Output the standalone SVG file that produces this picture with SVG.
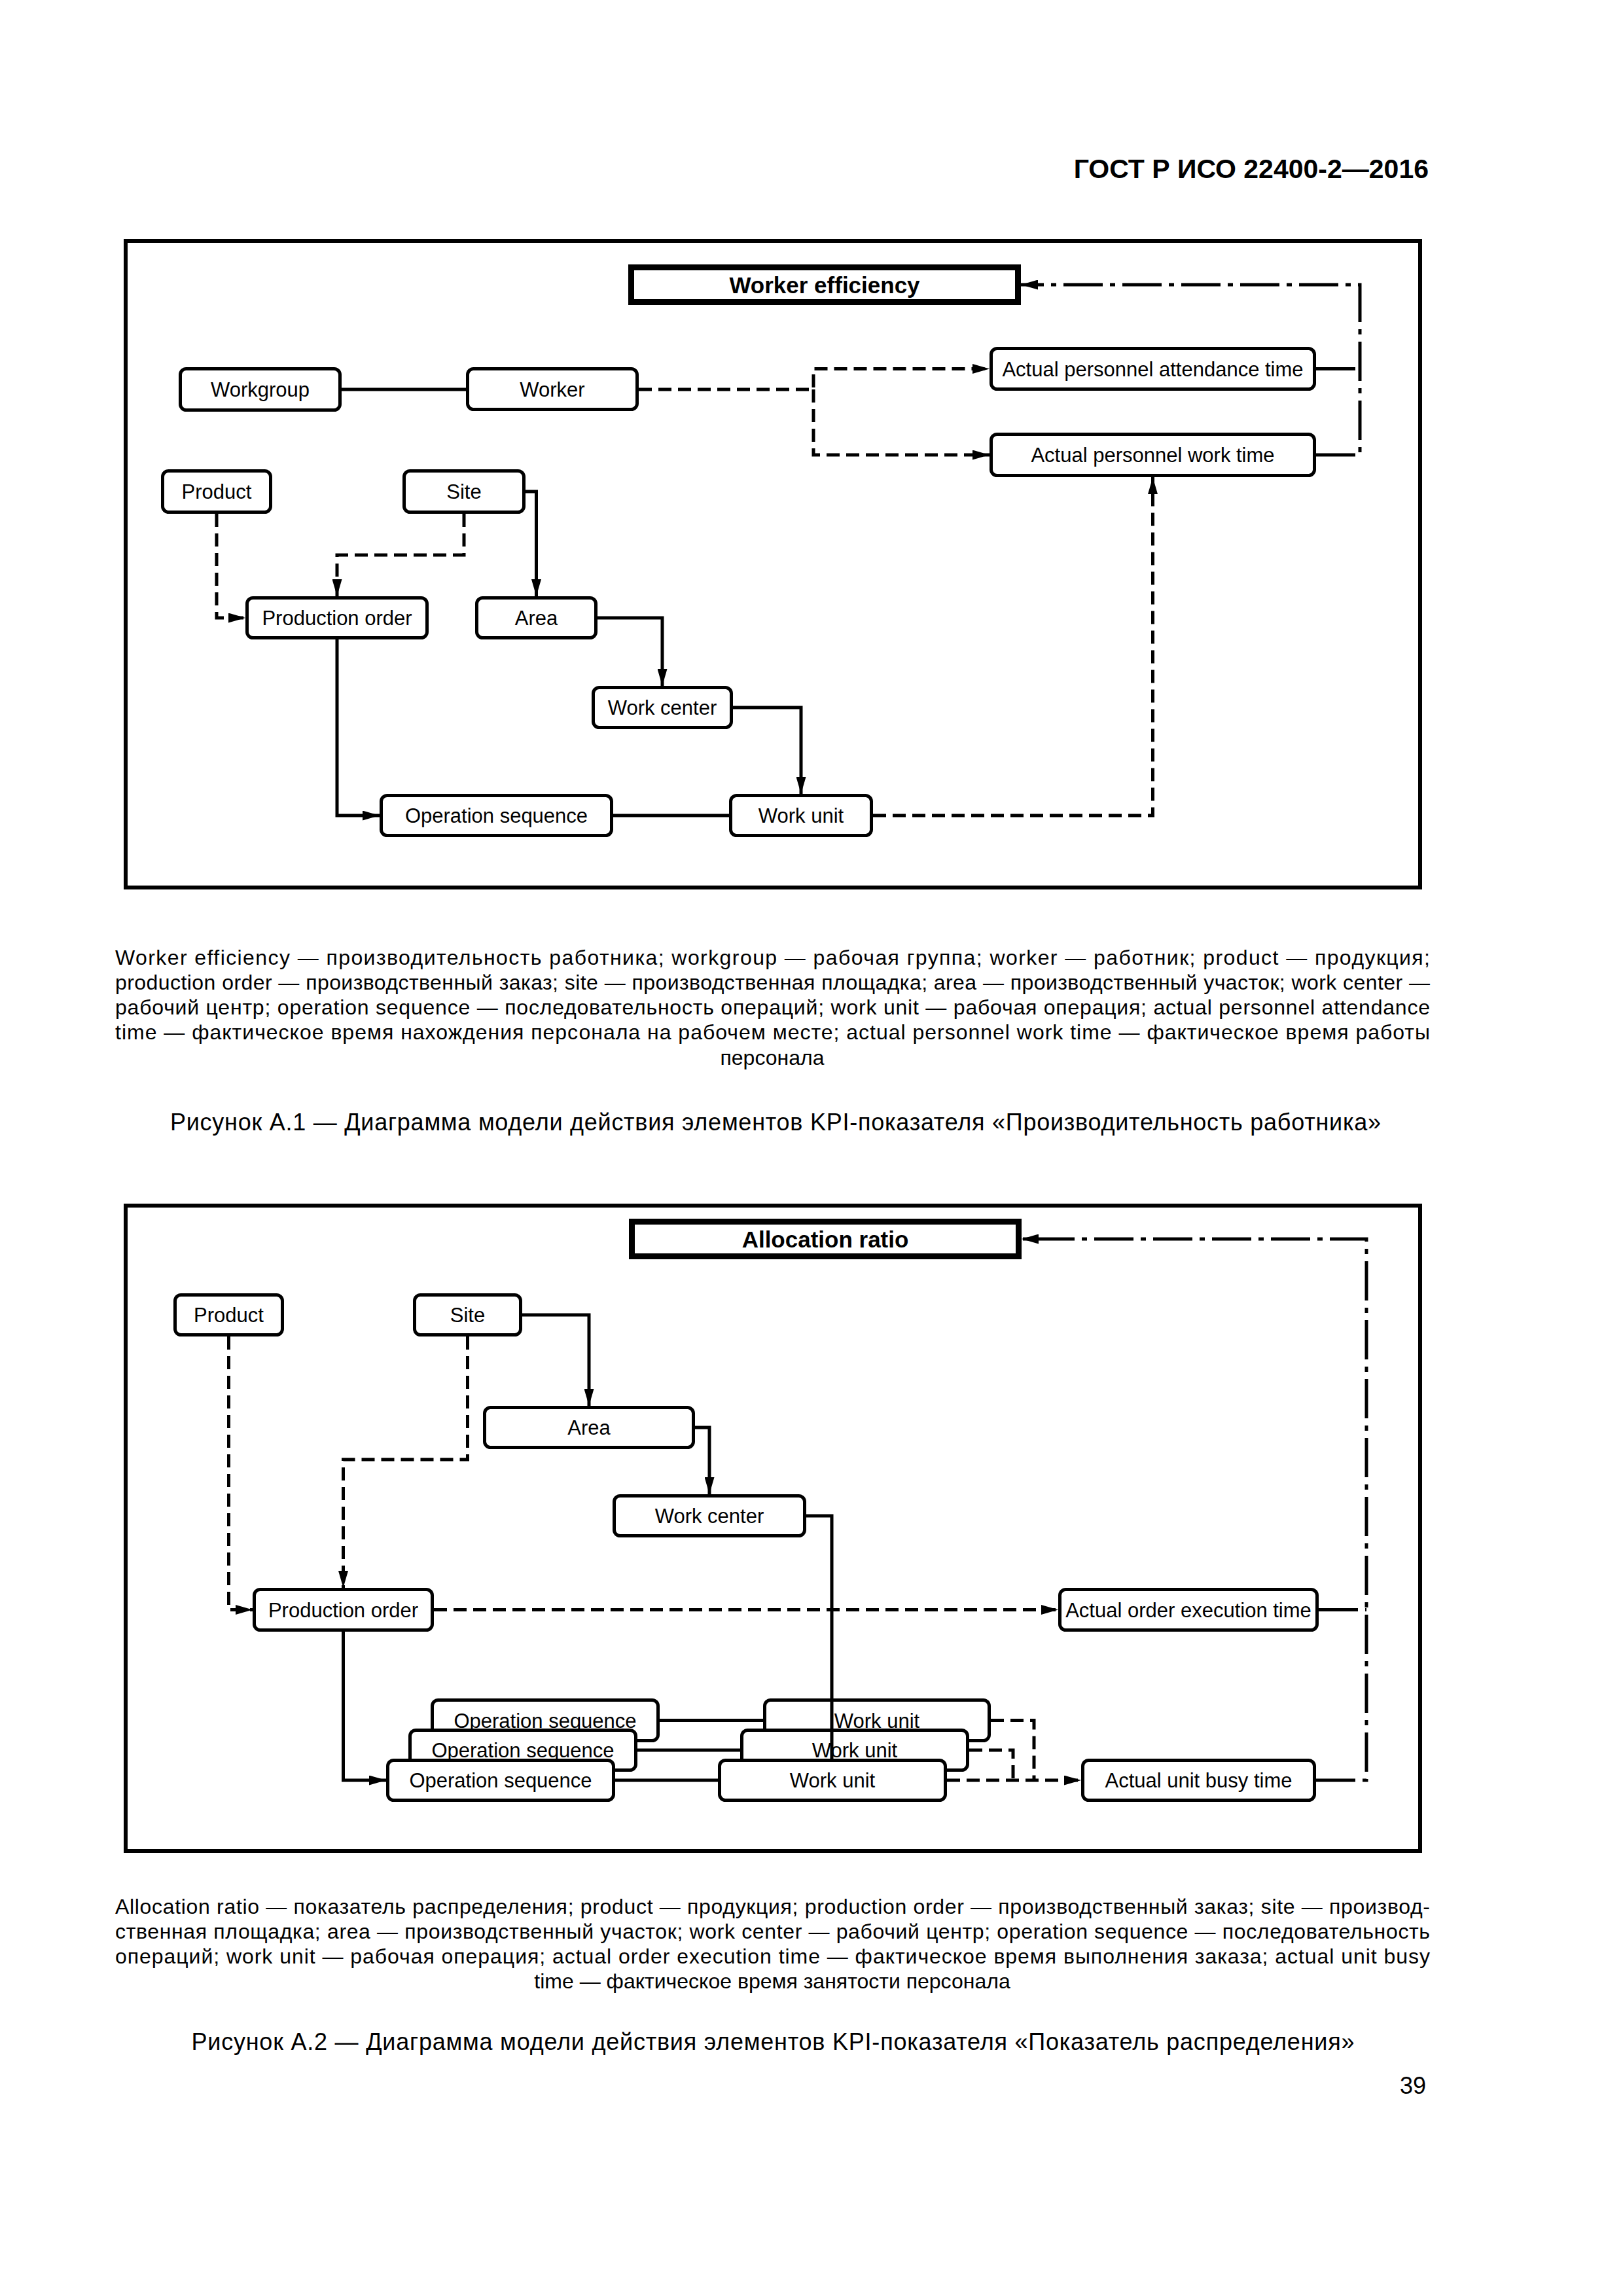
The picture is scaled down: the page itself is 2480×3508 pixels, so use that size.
<svg xmlns="http://www.w3.org/2000/svg" width="2480" height="3508" viewBox="0 0 2480 3508">
<defs>
<marker id="ah" markerUnits="userSpaceOnUse" markerWidth="26" markerHeight="15" refX="26" refY="7.5" orient="auto">
<path d="M0,0 L26,7.5 L0,15 z" fill="#000"/>
</marker>
<style>
text{font-family:"Liberation Sans",Arial,sans-serif;fill:#000}
.frame{fill:none;stroke:#000;stroke-width:6}
.node rect{fill:#fff;stroke:#000;stroke-width:5}
.node text{font-size:31px;text-anchor:middle}
.title rect{fill:#fff;stroke:#000;stroke-width:9}
.title text{font-size:35px;font-weight:bold;text-anchor:middle}
.c path{fill:none;stroke:#000;stroke-width:5}
.c .d{stroke-dasharray:20 10}
.c .dd{stroke-dasharray:60 11 8 11}
.c .a{marker-end:url(#ah)}
.leg{font-size:32px}
.cap{font-size:36px;text-anchor:middle}
.hdr{font-size:41px;font-weight:bold;text-anchor:end}
.pg{font-size:36px;text-anchor:end}
</style>
</defs>
<rect width="2480" height="3508" fill="#fff"/>
<text class="hdr" x="2183" y="272">ГОСТ Р ИСО 22400-2—2016</text>

<!-- Figure A.1 -->
<rect class="frame" x="192" y="368" width="1978" height="988"/>
<g id="f1-title" class="title"><rect x="964.5" y="408.5" width="591" height="53"/><text x="1260" y="447.5">Worker efficiency</text></g>
<g id="f1-workgroup" class="node"><rect x="275.5" y="563.5" width="244" height="63" rx="9"/><text x="397.5" y="606">Workgroup</text></g>
<g id="f1-worker" class="node"><rect x="714.5" y="563.5" width="259" height="62" rx="9"/><text x="844" y="606">Worker</text></g>
<g id="f1-attendance" class="node"><rect x="1514.5" y="532.5" width="494" height="62" rx="9"/><text x="1761.5" y="574.5">Actual personnel attendance time</text></g>
<g id="f1-worktime" class="node"><rect x="1514.5" y="663.5" width="494" height="63" rx="9"/><text x="1761.5" y="706">Actual personnel work time</text></g>
<g id="f1-product" class="node"><rect x="248.5" y="719.5" width="165" height="63" rx="9"/><text x="331" y="762">Product</text></g>
<g id="f1-site" class="node"><rect x="617.5" y="719.5" width="183" height="63" rx="9"/><text x="709" y="762">Site</text></g>
<g id="f1-prodorder" class="node"><rect x="377.5" y="913.5" width="275" height="61" rx="9"/><text x="515" y="955">Production order</text></g>
<g id="f1-area" class="node"><rect x="728.5" y="913.5" width="182" height="61" rx="9"/><text x="819.5" y="955">Area</text></g>
<g id="f1-workcenter" class="node"><rect x="906.5" y="1050.5" width="211" height="61" rx="9"/><text x="1012" y="1092">Work center</text></g>
<g id="f1-opseq" class="node"><rect x="582.5" y="1215.5" width="352" height="61" rx="9"/><text x="758.5" y="1257">Operation sequence</text></g>
<g id="f1-workunit" class="node"><rect x="1116.5" y="1215.5" width="215" height="61" rx="9"/><text x="1224" y="1257">Work unit</text></g>
<g id="f1-connectors" class="c">
<path d="M522,595 H712"/>
<path class="a" d="M803,751 H819.5 V911"/>
<path class="a" d="M515,977 V1246 H580"/>
<path class="a" d="M913,944 H1012 V1048"/>
<path class="a" d="M1120,1081 H1224 V1213"/>
<path d="M937,1246 H1114"/>
<path class="d a" d="M976,595 H1243 V563.5 H1512"/>
<path class="d a" d="M1243,595 V695 H1512"/>
<path class="d a" d="M709,785 V848 H515 V911"/>
<path class="d a" d="M331,785 V944 H375"/>
<path class="d a" d="M1334,1246 H1761.5 V729"/>
<path class="dd" d="M2011,563.5 H2078"/>
<path class="dd a" d="M2011,695 H2078 V435 H1560"/>
</g>
<text class="leg" x="176" y="1474" textLength="2009" lengthAdjust="spacing">Worker efficiency — производительность работника; workgroup — рабочая группа; worker — работник; product — продукция;</text>
<text class="leg" x="176" y="1512" textLength="2009" lengthAdjust="spacing">production order — производственный заказ; site — производственная площадка; area — производственный участок; work center —</text>
<text class="leg" x="176" y="1550" textLength="2009" lengthAdjust="spacing">рабочий центр; operation sequence — последовательность операций; work unit — рабочая операция; actual personnel attendance</text>
<text class="leg" x="176" y="1588" textLength="2009" lengthAdjust="spacing">time — фактическое время нахождения персонала на рабочем месте; actual personnel work time — фактическое время работы</text>
<text class="leg" x="1180" y="1627" text-anchor="middle">персонала</text>
<text class="cap" x="1185" y="1727" textLength="1850" lengthAdjust="spacing">Рисунок А.1 — Диаграмма модели действия элементов KPI-показателя «Производительность работника»</text>

<!-- Figure A.2 -->
<rect class="frame" x="192" y="1842" width="1978" height="986"/>
<g id="f2-title" class="title"><rect x="965.5" y="1866.5" width="591" height="53"/><text x="1261" y="1905.5">Allocation ratio</text></g>
<g id="f2-product" class="node"><rect x="267.5" y="1978.5" width="164" height="61" rx="9"/><text x="349.5" y="2020">Product</text></g>
<g id="f2-site" class="node"><rect x="633.5" y="1978.5" width="162" height="61" rx="9"/><text x="714.5" y="2020">Site</text></g>
<g id="f2-area" class="node"><rect x="740.5" y="2150.5" width="319" height="61" rx="9"/><text x="900" y="2192">Area</text></g>
<g id="f2-workcenter" class="node"><rect x="938.5" y="2285.5" width="291" height="61" rx="9"/><text x="1084" y="2327">Work center</text></g>
<g id="f2-prodorder" class="node"><rect x="388.5" y="2428.5" width="272" height="62" rx="9"/><text x="524.5" y="2470.5">Production order</text></g>
<g id="f2-orderexec" class="node"><rect x="1619.5" y="2428.5" width="393" height="62" rx="9"/><text x="1816" y="2470.5">Actual order execution time</text></g>
<g id="f2-opseq3" class="node"><rect x="660.5" y="2597.5" width="345" height="62" rx="9"/><text x="833" y="2639.5">Operation sequence</text></g>
<g id="f2-workunit3" class="node"><rect x="1168.5" y="2597.5" width="343" height="62" rx="9"/><text x="1340" y="2639.5">Work unit</text></g>
<g id="f2-opseq2" class="node"><rect x="626.5" y="2643.5" width="345" height="61" rx="9"/><text x="799" y="2685">Operation sequence</text></g>
<g id="f2-workunit2" class="node"><rect x="1133.5" y="2643.5" width="345" height="61" rx="9"/><text x="1306" y="2685">Work unit</text></g>
<g id="f2-opseq1" class="node"><rect x="592.5" y="2689.5" width="345" height="61" rx="9"/><text x="765" y="2731">Operation sequence</text></g>
<g id="f2-workunit1" class="node"><rect x="1099.5" y="2689.5" width="345" height="61" rx="9"/><text x="1272" y="2731">Work unit</text></g>
<g id="f2-busytime" class="node"><rect x="1654.5" y="2689.5" width="354" height="61" rx="9"/><text x="1831.5" y="2731">Actual unit busy time</text></g>
<g id="f2-connectors" class="c">
<path class="a" d="M798,2009 H900 V2148"/>
<path class="a" d="M1062,2181 H1084 V2283"/>
<path class="a" d="M524.5,2493 V2720 H590"/>
<path d="M1232,2316 H1271 V2687"/>
<path d="M1008,2628.5 H1166"/>
<path d="M974,2674 H1131"/>
<path d="M940,2720 H1097"/>
<path class="d a" d="M714.5,2042 V2230 H524.5 V2426"/>
<path class="d a" d="M349.5,2042 V2459.5 H386"/>
<path class="d a" d="M663,2459.5 H1617"/>
<path class="d" d="M1514,2628.5 H1580 V2720"/>
<path class="d" d="M1481,2674 H1548 V2720"/>
<path class="d a" d="M1447,2720 H1652"/>
<path class="dd" d="M2015,2459.5 H2088"/>
<path class="dd a" d="M2011,2720 H2088 V1893 H1561"/>
</g>
<text class="leg" x="176" y="2924" textLength="2009" lengthAdjust="spacing">Allocation ratio — показатель распределения; product — продукция; production order — производственный заказ; site — производ-</text>
<text class="leg" x="176" y="2962" textLength="2009" lengthAdjust="spacing">ственная площадка; area — производственный участок; work center — рабочий центр; operation sequence — последовательность</text>
<text class="leg" x="176" y="3000" textLength="2009" lengthAdjust="spacing">операций; work unit — рабочая операция; actual order execution time — фактическое время выполнения заказа; actual unit busy</text>
<text class="leg" x="1180" y="3038" text-anchor="middle">time — фактическое время занятости персонала</text>
<text class="cap" x="1181" y="3132" textLength="1777" lengthAdjust="spacing">Рисунок А.2 — Диаграмма модели действия элементов KPI-показателя «Показатель распределения»</text>
<text class="pg" x="2179" y="3199">39</text>
</svg>
